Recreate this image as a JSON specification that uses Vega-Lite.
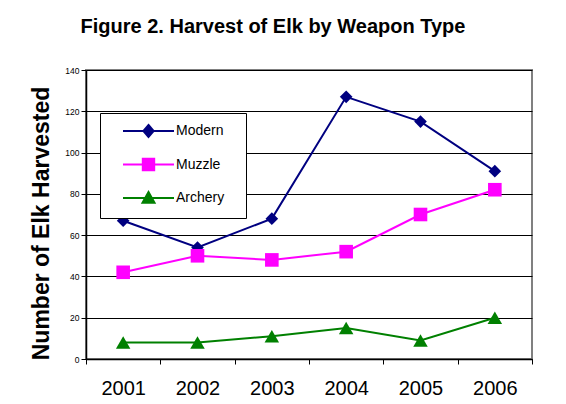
{
  "$schema": "https://vega.github.io/schema/vega-lite/v6.json",
  "width": 446,
  "height": 289,
  "autosize": "none",
  "padding": {"left": 86, "top": 70, "right": 34, "bottom": 45},
  "background": "white",
  "title": {
    "text": "Figure 2. Harvest of Elk by Weapon Type",
    "font": "Liberation Sans",
    "fontSize": 20,
    "fontWeight": "bold",
    "color": "black",
    "anchor": "middle",
    "dx": -36,
    "offset": 29
  },
  "config": {
    "font": "Liberation Sans",
    "view": {"stroke": "#808080", "strokeWidth": 2}
  },
  "data": {
    "values": [
      {"year": "2001", "type": "Modern", "harvest": 67},
      {"year": "2002", "type": "Modern", "harvest": 54},
      {"year": "2003", "type": "Modern", "harvest": 68},
      {"year": "2004", "type": "Modern", "harvest": 127},
      {"year": "2005", "type": "Modern", "harvest": 115},
      {"year": "2006", "type": "Modern", "harvest": 91},
      {"year": "2001", "type": "Muzzle", "harvest": 42},
      {"year": "2002", "type": "Muzzle", "harvest": 50},
      {"year": "2003", "type": "Muzzle", "harvest": 48},
      {"year": "2004", "type": "Muzzle", "harvest": 52},
      {"year": "2005", "type": "Muzzle", "harvest": 70},
      {"year": "2006", "type": "Muzzle", "harvest": 82},
      {"year": "2001", "type": "Archery", "harvest": 8},
      {"year": "2002", "type": "Archery", "harvest": 8},
      {"year": "2003", "type": "Archery", "harvest": 11},
      {"year": "2004", "type": "Archery", "harvest": 15},
      {"year": "2005", "type": "Archery", "harvest": 9},
      {"year": "2006", "type": "Archery", "harvest": 20}
    ]
  },
  "encoding": {
    "x": {
      "field": "year",
      "type": "ordinal",
      "scale": {"type": "band", "paddingInner": 0, "paddingOuter": 0},
      "axis": {
        "title": null,
        "tickBand": "extent",
        "tickSize": 5,
        "tickColor": "black",
        "domainColor": "black",
        "domainWidth": 1.5,
        "labelAngle": 0,
        "labelFontSize": 20,
        "labelColor": "black",
        "labelPadding": 14,
        "grid": false
      }
    },
    "y": {
      "field": "harvest",
      "type": "quantitative",
      "scale": {"domain": [0, 140]},
      "axis": {
        "values": [0, 20, 40, 60, 80, 100, 120, 140],
        "title": "Number of Elk Harvested",
        "titleFontSize": 23,
        "titleFontWeight": "bold",
        "titleColor": "black",
        "titleX": -45,
        "titleY": 153,
        "titleAngle": -90,
        "titleAlign": "center",
        "titleBaseline": "middle",
        "labelFontSize": 8.5,
        "labelColor": "black",
        "labelPadding": 2,
        "tickSize": 5,
        "tickColor": "black",
        "domainColor": "black",
        "domainWidth": 1.5,
        "grid": true,
        "gridColor": "black",
        "gridWidth": 1
      }
    }
  },
  "layer": [
    {
      "mark": {"type": "line", "strokeWidth": 2},
      "encoding": {
        "color": {
          "field": "type",
          "type": "nominal",
          "scale": {"domain": ["Modern", "Muzzle", "Archery"], "range": ["#000080", "#FF00FF", "#008000"]},
          "legend": {
            "title": "\u00a0",
            "titleOrient": "right",
            "titlePadding": 10.5,
            "titleFontSize": 14,
            "orient": "none",
            "legendX": 14,
            "legendY": 43,
            "padding": 11,
            "fillColor": "white",
            "strokeColor": "black",
            "labelFontSize": 14,
            "labelColor": "black",
            "labelOffset": 20.5,
            "symbolOffset": 30.5,
            "symbolSize": 144,
            "rowPadding": 13.5,
            "symbolStrokeWidth": 2,
            "encode": {
              "symbols": {
                "update": {
                  "shape": {"signal": "datum.value === 'Modern' ? 'M-4.25,0L4.25,0M0,-1L0.85,0L0,1L-0.85,0Z' : datum.value === 'Muzzle' ? 'M-4.25,0L4.25,0M-0.95,-0.95L0.95,-0.95L0.95,0.95L-0.95,0.95Z' : 'M-4.25,0L4.25,0M0,-1L1,0.8L-1,0.8Z'"},
                  "stroke": {"signal": "scale('color', datum.value)"},
                  "fill": {"signal": "scale('color', datum.value)"},
                  "strokeWidth": {"value": 2},
                  "opacity": {"value": 1}
                }
              }
            }
          }
        }
      }
    },
    {
      "mark": {"type": "point", "filled": true, "opacity": 1},
      "encoding": {
        "color": {"field": "type", "type": "nominal", "legend": null},
        "shape": {
          "field": "type",
          "type": "nominal",
          "scale": {"domain": ["Modern", "Muzzle", "Archery"], "range": ["diamond", "square", "triangle-up"]},
          "legend": null
        },
        "size": {
          "field": "type",
          "type": "nominal",
          "scale": {"domain": ["Modern", "Muzzle", "Archery"], "range": [160, 210, 230]},
          "legend": null
        }
      }
    }
  ],
  "resolve": {"legend": {"color": "independent"}}
}
